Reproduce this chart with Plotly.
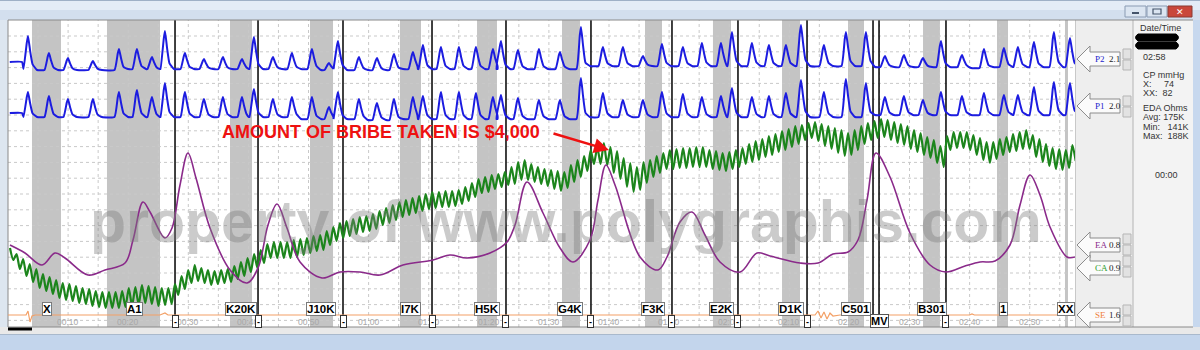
import plotly.graph_objects as go

W, H = 1200, 350
PX_PER_S = 6.01          # chart speed: pixels per second
X0 = 8                   # left edge of the trace area (px)
X1 = 1075                # right edge of the trace area (px)
T_MAX = (X1 - X0) / PX_PER_S

# ---------------------------------------------------------------- data
# respiration (pneumo) peaks: time (s) shared by P1 and P2
breath_t = [3.33, 6.82, 9.98, 14.14, 18.47, 21.46, 23.96, 26.12, 29.45, 32.61,
            35.77, 38.94, 40.93, 44.09, 47.25, 50.58, 53.41, 54.91, 58.40, 61.40,
            64.23, 67.39, 69.05, 72.05, 75.04, 77.87, 80.70, 82.03, 84.86, 88.35,
            91.85, 95.34, 99.00, 102.33, 105.66, 108.82, 112.31, 115.47, 118.64, 120.47,
            123.79, 126.62, 129.45, 131.95, 135.77, 139.43, 142.76, 145.92, 149.08, 152.25,
            155.24, 158.74, 162.40, 165.72, 168.05, 170.72, 174.04, 176.71]
p2_peak = [34, 17, 12, 9, 21, 21, 13, 39, 17, 11, 13, 11, 33, 13, 17, 21, 7, 29, 13, 12,
           16, 18, 25, 23, 23, 23, 21, 29, 20, 21, 18, 43, 23, 23, 14, 26, 23, 27, 27, 38,
           27, 25, 25, 45, 25, 38, 38, 14, 15, 12, 29, 15, 21, 22, 23, 28, 38, 32]
p2_base = [1, 0, 0, 0, 0, 1, 1, 1, 1, 1, 1, 1, 1, 1, 1, 1, 0, 1, 0, 0,
           0, 1, 1, 1, 1, 1, 1, 1, 1, 1, 1, 1, 4, 4, 4, 4, 4, 4, 4, 4,
           4, 4, 4, 4, 4, 4, 4, 3, 3, 3, 3, 3, 2, 3, 3, 3, 3, 3]
p2_start = 8
p1_peak = [25, 21, 18, 18, 25, 27, 20, 34, 25, 18, 20, 20, 28, 18, 20, 20, 10, 25, 18, 14,
           18, 20, 21, 25, 25, 24, 20, 22, 19, 17, 17, 39, 24, 17, 17, 25, 23, 20, 21, 29,
           20, 21, 24, 37, 25, 38, 34, 20, 21, 17, 25, 21, 24, 22, 22, 30, 35, 34]
p1_base = [0, 0, 0, 0, 0, 0, 0, 0, 0, 0, 0, 0, 0, 0, 0, -2, -2, -2, -2, -3,
           -3, -2, -2, -2, -2, -2, -2, -2, -2, -2, -2, -2, 0, 0, 0, 0, 0, 0, 0, 0,
           0, 0, 0, 0, 0, 0, 0, 2, 2, 2, 2, 2, 2, 2, 2, 2, 2, 2]
p1_start = 4

# electrodermal channel (CA), sampled every half heart-beat
ca_t0 = 0.33
ca_dt = 0.549
ca_vals = [52, 40, 46, 31, 41, 24, 36, 18, 31, 12, 26, 9, 23, 6, 20, 2, 17, 0, 16, -1,
           14, -3, 12, -4, 11, -6, 9, -7, 8, -8, 8, -8, 8, -8, 9, -7, 12, -6, 13, -5,
           15, -3, 14, -4, 13, -6, 12, -5, 12, -4, 16, 5, 24, 11, 30, 17, 35, 19, 32, 17,
           30, 15, 29, 16, 30, 17, 31, 18, 34, 21, 38, 24, 42, 28, 46, 32, 50, 37, 56, 42,
           58, 42, 58, 42, 58, 42, 60, 43, 61, 45, 62, 47, 64, 49, 65, 50, 69, 55, 73, 59,
           77, 62, 79, 64, 81, 66, 83, 68, 84, 69, 86, 71, 89, 75, 92, 77, 95, 80, 98, 83,
           100, 85, 102, 87, 104, 89, 106, 91, 108, 92, 108, 93, 109, 93, 109, 94, 110, 96, 113, 99,
           117, 103, 121, 107, 123, 108, 125, 111, 126, 113, 128, 115, 133, 116, 138, 120, 140, 120, 136, 118,
           133, 116, 131, 114, 130, 111, 129, 109, 128, 112, 135, 118, 140, 123, 144, 129, 150, 136, 153, 136,
           157, 135, 153, 127, 149, 121, 142, 113, 137, 108, 133, 110, 138, 117, 140, 123, 144, 127, 147, 131,
           150, 131, 151, 132, 152, 132, 152, 133, 153, 133, 153, 133, 150, 131, 149, 130, 147, 129, 148, 131,
           150, 133, 152, 136, 156, 138, 159, 140, 161, 143, 164, 145, 166, 148, 169, 150, 171, 153, 174, 156,
           175, 160, 177, 162, 178, 159, 176, 154, 174, 151, 172, 147, 170, 144, 167, 145, 170, 150, 174, 156,
           177, 160, 179, 162, 181, 163, 180, 160, 178, 157, 176, 155, 174, 151, 170, 148, 167, 145, 163, 142,
           160, 137, 154, 133, 164, 150, 168, 152, 168, 152, 168, 150, 165, 145, 162, 140, 158, 137, 158, 141,
           161, 145, 163, 148, 166, 149, 168, 151, 170, 151, 165, 143, 161, 138, 156, 134, 152, 131, 151, 130,
           150, 132, 155, 139]

# EA channel
ea_t = [0.33, 2.83, 5.66, 7.82, 9.48, 13.31, 16.14, 19.47, 20.80, 22.46,
        23.63, 26.12, 27.29, 28.62, 29.95, 31.28, 33.61, 36.94, 39.77, 41.60,
        43.26, 44.76, 46.42, 48.59, 52.25, 55.24, 58.57, 61.90, 65.72, 70.72,
        73.54, 76.37, 80.20, 83.03, 84.36, 86.36, 89.02, 91.85, 94.01, 96.84,
        98.17, 99.50, 101.00, 105.16, 108.15, 109.65, 111.81, 113.81, 115.97, 118.47,
        121.80, 124.63, 126.79, 131.78, 134.78, 137.27, 139.77, 141.43, 142.93, 144.43,
        146.76, 150.08, 153.41, 156.07, 159.23, 161.73, 164.23, 166.72, 168.39, 170.05,
        171.71, 173.38, 176.21, 177.54]
ea_v = [40, 32, 20, 32, 27, 10, 15, 22, 45, 83,
        73, 47, 57, 100, 132, 107, 57, 15, 2, 17,
        60, 81, 57, 23, 7, 13, 13, 10, 20, 25,
        30, 27, 32, 43, 60, 103, 72, 37, 23, 45,
        85, 120, 100, 28, 15, 28, 63, 73, 50, 23,
        13, 32, 29, 22, 22, 31, 33, 45, 85, 132,
        108, 52, 20, 13, 19, 23, 24, 40, 80, 110,
        90, 58, 28, 28]

# SE channel
se_t = [0.0, 3.0, 3.33, 3.66, 3.99, 4.49, 25.29, 26.12, 26.62, 80.0, 80.4, 80.8,
        134.28, 134.78, 135.27, 135.77, 136.27, 136.77, 137.27, 138.44, 160.0, 160.4, 160.8, 177.54]
se_v = [0, 0, 4, -7, -1, 0, 0, 2, 0, 0, 1, 0, 0, 4, -3, 3, -4, 2, -1, 0, 0, 1, 0, 0]

# question periods (shaded) and event marks
band_start = [3.99, 16.47, 36.94, 50.25, 65.22, 78.04, 92.18, 105.99, 117.30, 128.79, 139.77, 152.25, 164.56, 175.87]
band_end = [8.82, 25.29, 40.60, 54.08, 68.72, 81.36, 95.17, 108.82, 120.30, 131.78, 142.43, 155.07, 166.39, 176.37]
event_t = [27.79, 41.60, 55.74, 70.55, 82.86, 97.00, 110.48, 121.46, 132.95, 143.93, 144.93, 156.07]
dash_t = [27.79, 41.60, 55.74, 70.55, 82.86, 97.00, 110.48, 121.46, 132.95, 156.07]
question_labels = ["X", "A1", "K20K", "J10K", "I7K", "H5K", "G4K", "F3K", "E2K", "D1K", "C501", "B301", "1", "XX"]
question_t = [6.49, 20.97, 38.77, 52.08, 67.05, 79.70, 93.51, 107.32, 118.80, 130.28, 141.10, 153.74, 165.56, 176.04]
mv_t = 145.09
tick_t = [10, 20, 30, 40, 50, 60, 70, 80, 90, 100, 110, 120, 130, 140, 150, 160, 170]
tick_labels = ["00:10", "00:20", "00:30", "00:40", "00:50", "01:00", "01:10", "01:20", "01:30",
               "01:40", "01:50", "02:00", "02:10", "02:20", "02:30", "02:40", "02:50"]

channel_names = ["P2", "P1", "EA", "CA", "SE"]
channel_gain = ["2.1", "2.0", "0.8", "0.9", "1.6"]
info_lines = ["CP mmHg", "X:     74", "XX:  82", "EDA Ohms", "Avg: 175K", "Min:   141K", "Max:  188K"]

# ---------------------------------------------------------------- helpers
def fx(x):
    return x / W

def fy(r):
    return 1 - r / H


def breath_wave(times, peaks, bases, start_v):
    xs, ys = [0.3, times[0] - 1.0], [start_v, start_v]
    for i, (t, p, b) in enumerate(zip(times, peaks, bases)):
        nxt = times[i + 1] if i + 1 < len(times) else t + 3.0
        b_next = bases[i + 1] if i + 1 < len(bases) else b
        t_end = max(t + 0.75, min(t + 1.5, nxt - 0.85))
        xs += [t - 0.75, t - 0.2, t, t + 0.35, t + 0.75, t_end]
        ys += [b, b + 0.8 * (p - b), p, b + 0.55 * (p - b), b + 0.15 * (p - b), b_next]
    return xs, ys


fig = go.Figure()

# channel y-axes: reference row (px) for each channel, 1 unit = 1 px
refs = {"y": 70, "y2": 117, "y3": 300, "y4": 285, "y5": 315}

ca_x = [ca_t0 + i * ca_dt for i in range(len(ca_vals))]
fig.add_trace(go.Scatter(x=ca_x, y=ca_vals, yaxis="y3", mode="lines",
                         line=dict(color="#1c851c", width=2.2, shape="spline", smoothing=0.6),
                         hoverinfo="skip"))
fig.add_trace(go.Scatter(x=ea_t, y=ea_v, yaxis="y4", mode="lines",
                         line=dict(color="#8a2a8a", width=1.6, shape="spline", smoothing=1.0),
                         hoverinfo="skip"))
x2, y2 = breath_wave(breath_t, p2_peak, p2_base, p2_start)
fig.add_trace(go.Scatter(x=x2, y=y2, yaxis="y", mode="lines",
                         line=dict(color="#1c1ce0", width=2, shape="spline", smoothing=0.4),
                         hoverinfo="skip"))
x1, y1 = breath_wave(breath_t, p1_peak, p1_base, p1_start)
fig.add_trace(go.Scatter(x=x1, y=y1, yaxis="y2", mode="lines",
                         line=dict(color="#1c1ce0", width=2, shape="spline", smoothing=0.4),
                         hoverinfo="skip"))
fig.add_trace(go.Scatter(x=se_t, y=se_v, yaxis="y5", mode="lines",
                         line=dict(color="#f3a066", width=1.2), hoverinfo="skip"))

# ---------------------------------------------------------------- shapes
shapes = []

def rect_px(x0, r0, x1, r1, fill, line=None, lw=0, layer="below"):
    shapes.append(dict(type="rect", xref="paper", yref="paper",
                       x0=fx(x0), x1=fx(x1), y0=fy(r1), y1=fy(r0),
                       fillcolor=fill, line=dict(color=line or fill, width=lw), layer=layer))

def hline_px(x0, x1, r, color, width=1, dash="solid", layer="below"):
    shapes.append(dict(type="line", xref="paper", yref="paper", x0=fx(x0), x1=fx(x1),
                       y0=fy(r), y1=fy(r), line=dict(color=color, width=width, dash=dash), layer=layer))

def vline_px(x, r0, r1, color, width=1, dash="solid", layer="below"):
    shapes.append(dict(type="line", xref="paper", yref="paper", x0=fx(x), x1=fx(x),
                       y0=fy(r0), y1=fy(r1), line=dict(color=color, width=width, dash=dash), layer=layer))

# window chrome
rect_px(0, 0, 1200, 10, "#e4ecf6")
rect_px(0, 10, 1200, 20, "#d3dfee")
hline_px(0, 1200, 0.5, "#9fb0c6")
rect_px(0, 20, 8, 335, "#dde6f0")
rect_px(1193, 20, 1200, 335, "#c7d8ee")
rect_px(0, 327, 1200, 335, "#e9e9e9")
rect_px(0, 335, 1200, 350, "#c3d5ec")
hline_px(0, 1200, 334.5, "#a9b9cc")
# trace area and side panels
rect_px(X0, 20, X1, 327, "white")
rect_px(X1, 20, 1133, 327, "#eeeeee")
rect_px(1133, 20, 1193, 327, "#f3f3f3")
vline_px(1133, 20, 327, "#b4b4b4")
vline_px(X1 + 0.5, 20, 327, "#c8c8c8")

# shaded question periods
for a, b in zip(band_start, band_end):
    shapes.append(dict(type="rect", xref="x", yref="paper", x0=a, x1=b, y0=fy(327), y1=fy(20),
                       fillcolor="#c4c4c4", line=dict(width=0), layer="below"))
# grid
for t in range(5, 180, 5):
    shapes.append(dict(type="line", xref="x", yref="paper", x0=t, x1=t, y0=fy(327), y1=fy(20),
                       line=dict(color="#c9c9c9", width=1, dash="dot"), layer="below"))
for k in range(19):
    hline_px(X0, X1, 36 + 15.8 * k, "#c9c9c9", 1, "dot")
# event marks
for t in event_t:
    shapes.append(dict(type="line", xref="x", yref="paper", x0=t, x1=t, y0=fy(327), y1=fy(20),
                       line=dict(color="#111111", width=1.6), layer="below"))
# borders
hline_px(X0, 1193, 20, "#8a8a8a")
vline_px(X0, 20, 327, "#8a8a8a")
hline_px(X0, 1193, 327, "#8a8a8a")
rect_px(X0, 327.5, 32, 330.5, "#000000")

# channel arrows on the right
arrow_rows = [59, 106, 245, 268, 315]
name_colors = ["#2222cc", "#2222cc", "#8a2a8a", "#2a9a2a", "#f08040"]
for r in arrow_rows:
    tip, hx, bx = 1077, 1090, 1120
    path = (f"M {fx(tip)},{fy(r)} L {fx(hx)},{fy(r - 13)} L {fx(hx)},{fy(r - 7)} "
            f"L {fx(bx)},{fy(r - 7)} L {fx(bx)},{fy(r + 7)} L {fx(hx)},{fy(r + 7)} "
            f"L {fx(hx)},{fy(r + 13)} Z")
    shapes.append(dict(type="path", xref="paper", yref="paper", path=path,
                       fillcolor="#fbfbfb", line=dict(color="#8c8c8c", width=1), layer="above"))
# scroll buttons
for r in [59, 106, 256, 315]:
    span = 22 if r == 256 else 10
    top = r - span
    n = 4 if r == 256 else 2
    for i in range(n):
        rect_px(1123, top + i * 11, 1131, top + i * 11 + 10, "#e2e2e2", "#b5b5b5", 1, layer="above")

# window buttons
rect_px(1125, 6, 1146, 17, "#dbe5f1", "#8a9bb3", 1, layer="above")
rect_px(1147, 6, 1167, 17, "#dbe5f1", "#8a9bb3", 1, layer="above")
rect_px(1168, 6, 1192, 17, "#c9473b", "#8a3a33", 1, layer="above")
hline_px(1132, 1139, 13, "#44546a", 2, layer="above")
rect_px(1153, 9, 1161, 14, "rgba(0,0,0,0)", "#44546a", 1.2, layer="above")
# redaction blobs
for r0, r1 in [(34, 41), (42, 49)]:
    shapes.append(dict(type="path", xref="paper", yref="paper",
                       path=(f"M {fx(1138)},{fy(r0)} L {fx(1176)},{fy(r0)} Q {fx(1181)},{fy((r0 + r1) / 2)} "
                             f"{fx(1176)},{fy(r1)} L {fx(1138)},{fy(r1)} Q {fx(1133)},{fy((r0 + r1) / 2)} "
                             f"{fx(1138)},{fy(r0)} Z"),
                       fillcolor="black", line=dict(color="black", width=1), layer="above"))

# ---------------------------------------------------------------- annotations
ann = []
FONT = "Liberation Sans, Arial, sans-serif"

def text_px(x, r, s, size=9, color="#333333", anchor="left", family=FONT, **kw):
    ann.append(dict(x=fx(x), y=fy(r), xref="paper", yref="paper", text=s, showarrow=False,
                    xanchor=anchor, yanchor="middle", font=dict(size=size, color=color, family=family), **kw))

# time labels
for t, s in zip(tick_t, tick_labels):
    ann.append(dict(x=t, y=fy(322), xref="x", yref="paper", text=s, showarrow=False,
                    xanchor="center", yanchor="middle", font=dict(size=8.5, color="#a8a8a8", family=FONT)))
# question labels
for t, s in zip(question_t, question_labels):
    ann.append(dict(x=t, y=fy(308.5), xref="x", yref="paper", text=f"<b>{s}</b>", showarrow=False,
                    xanchor="center", yanchor="middle", bgcolor="white", bordercolor="#7a7a7a",
                    borderwidth=1, borderpad=0, font=dict(size=11.5, color="black", family=FONT)))
for t in dash_t:
    ann.append(dict(x=t, y=fy(321), xref="x", yref="paper", text="<b>-</b>", showarrow=False,
                    xanchor="center", yanchor="middle", bgcolor="white", bordercolor="#333333",
                    borderwidth=1, borderpad=0, width=5, height=11,
                    font=dict(size=9, color="black", family=FONT)))
ann.append(dict(x=mv_t, y=fy(321), xref="x", yref="paper", text="<b>MV</b>", showarrow=False,
                xanchor="center", yanchor="middle", bgcolor="white", bordercolor="#555555",
                borderwidth=1, borderpad=0, font=dict(size=11, color="black", family=FONT)))

# watermark
text_px(566, 222, "<b>property of www.polygraphis.com</b>", size=59,
        color="rgba(125,125,125,0.40)", anchor="center")
# red note
text_px(381, 132, "<b>AMOUNT OF BRIBE TAKEN IS $4,000</b>", size=18, color="#ee1111", anchor="center")
ann.append(dict(x=fx(609), y=fy(150), xref="paper", yref="paper", ax=-57, ay=-17,
                axref="pixel", ayref="pixel", text="", showarrow=True, arrowhead=2,
                arrowsize=1.2, arrowwidth=2.5, arrowcolor="#ee1111"))

# channel arrow texts
for r, nm, g, c in zip(arrow_rows, channel_names, channel_gain, name_colors):
    text_px(1093, r, nm, size=9, color=c, family="Liberation Serif, Times New Roman, serif")
    text_px(1107, r, g, size=9, color="#222222", family="Liberation Serif, Times New Roman, serif")

# info panel
text_px(1160, 28, "Date/Time", size=9, anchor="center")
text_px(1141, 57, "02:58", size=9)
for i, s in enumerate(info_lines[:3]):
    text_px(1141, 75 + 9 * i, s, size=9)
for i, s in enumerate(info_lines[3:]):
    text_px(1141, 108 + 9.3 * i, s, size=9)
text_px(1166, 175, "00:00", size=9, anchor="center")
text_px(1180, 12, "✕", size=9, color="white", anchor="center")

# ---------------------------------------------------------------- layout
layout_axes = {}
for key, ref in refs.items():
    name = "yaxis" if key == "y" else "yaxis" + key[1:]
    ax = dict(range=[ref - H, ref], visible=False, fixedrange=True)
    if key != "y":
        ax["overlaying"] = "y"
    else:
        ax["domain"] = [0, 1]
    layout_axes[name] = ax

fig.update_layout(
    width=W, height=H, margin=dict(l=0, r=0, t=0, b=0),
    paper_bgcolor="#eeeeee", plot_bgcolor="rgba(0,0,0,0)",
    showlegend=False,
    xaxis=dict(domain=[X0 / W, X1 / W], range=[0, T_MAX], visible=False, fixedrange=True),
    shapes=shapes, annotations=ann,
    **layout_axes,
)
fig.write_html("out.html")
